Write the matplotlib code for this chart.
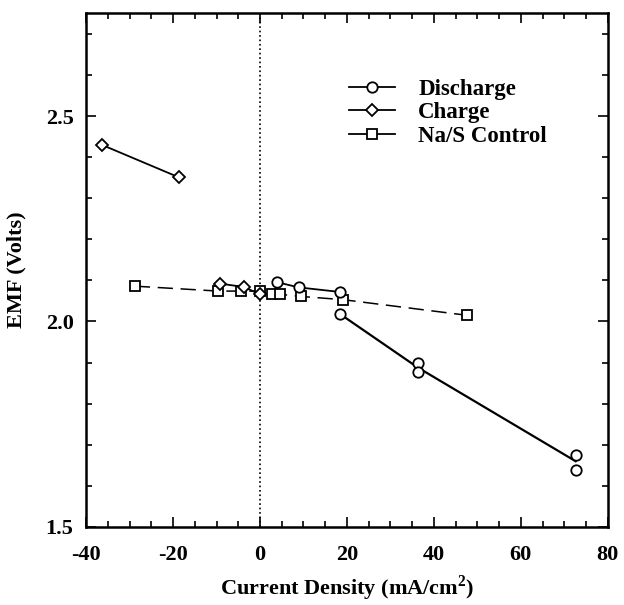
import matplotlib
matplotlib.use('Agg')
import matplotlib.pyplot as plt
from matplotlib.ticker import MultipleLocator

# Данные
# Discharge: верхняя группа (около нуля) и нижняя ветка
dis_top_x = [3.8, 8.9, 18.3]
dis_top_y = [2.096, 2.083, 2.072]
dis_x = [18.3, 36.3, 36.3, 72.6, 72.6]
dis_y = [2.019, 1.898, 1.878, 1.676, 1.639]
dis_line_x = [18.3, 36.3, 72.6]
dis_line_y = [2.019, 1.888, 1.660]

# Charge
chg_hi_x = [-36.4, -18.7]
chg_hi_y = [2.430, 2.351]
chg_lo_x = [-9.1, -3.7, 0.0]
chg_lo_y = [2.092, 2.084, 2.066]

# Na/S Control
nas_x = [-28.8, -9.6, -4.3, 0.1, 2.8, 4.7, 9.5, 19.2, 47.7]
nas_y = [2.086, 2.074, 2.074, 2.074, 2.068, 2.066, 2.061, 2.053, 2.015]

plt.rcParams['font.family'] = ['Liberation Serif', 'DejaVu Serif']
plt.rcParams['font.weight'] = 'bold'
plt.rcParams['axes.unicode_minus'] = False
plt.rcParams['mathtext.fontset'] = 'custom'
plt.rcParams['mathtext.bf'] = 'Liberation Serif:bold'
plt.rcParams['mathtext.rm'] = 'Liberation Serif:bold'

fig = plt.figure(figsize=(6.24, 6.05), dpi=100)
ax = fig.add_axes([0.138, 0.129, 0.836, 0.849])

mk = dict(markerfacecolor='white', markeredgecolor='black', markeredgewidth=1.3, color='black')

ax.axvline(0, color='black', linestyle=':', linewidth=1.2, zorder=1)

# Na/S control - штриховая линия
ax.plot(nas_x, nas_y, linestyle=(0, (10, 5)), linewidth=1.1, marker='s', markersize=6.5, **mk)

# Charge
ax.plot(chg_hi_x, chg_hi_y, '-', linewidth=1.3, marker='D', markersize=6.5, **mk)
ax.plot(chg_lo_x, chg_lo_y, '-', linewidth=1.3, marker='D', markersize=6.5, **mk)

# Discharge
ax.plot(dis_top_x, dis_top_y, '-', linewidth=1.3, marker='o', markersize=7.5, **mk)
ax.plot(dis_line_x, dis_line_y, '-', linewidth=1.6, color='black')
ax.plot(dis_x, dis_y, linestyle='none', marker='o', markersize=7.5, **mk)

# Легенда
h1, = ax.plot([], [], '-', linewidth=1.3, marker='o', markersize=7.5, **mk)
h2, = ax.plot([], [], '-', linewidth=1.3, marker='D', markersize=6.5, **mk)
h3, = ax.plot([], [], '-', linewidth=1.3, marker='s', markersize=6.5, **mk)
leg = ax.legend([h1, h2, h3], ['Discharge', 'Charge', 'Na/S Control'],
                loc='upper left', bbox_to_anchor=(0.487, 0.89), frameon=False,
                fontsize=16.5, handlelength=2.0, handletextpad=1.0, labelspacing=0.1,
                borderaxespad=0)

ax.set_xlim(-40, 80)
ax.set_ylim(1.5, 2.75)
ax.xaxis.set_major_locator(MultipleLocator(20))
ax.xaxis.set_minor_locator(MultipleLocator(5))
ax.yaxis.set_major_locator(MultipleLocator(0.5))
ax.yaxis.set_minor_locator(MultipleLocator(0.1))
ax.yaxis.set_major_formatter(plt.FormatStrFormatter('%.1f'))

ax.tick_params(which='both', direction='in', top=True, right=True, width=1.2)
ax.tick_params(which='major', length=7, labelsize=16, pad=9)
ax.tick_params(axis='x', which='major', pad=13)
ax.tick_params(which='minor', length=4)
for s in ax.spines.values():
    s.set_linewidth(1.8)

ax.set_xlabel('Current Density (mA/cm$^{\\mathbf{2}}$)', fontsize=16, fontweight='bold', labelpad=6)
ax.set_ylabel('EMF (Volts)', fontsize=16, fontweight='bold', labelpad=14)

fig.savefig('out.png', dpi=100)
